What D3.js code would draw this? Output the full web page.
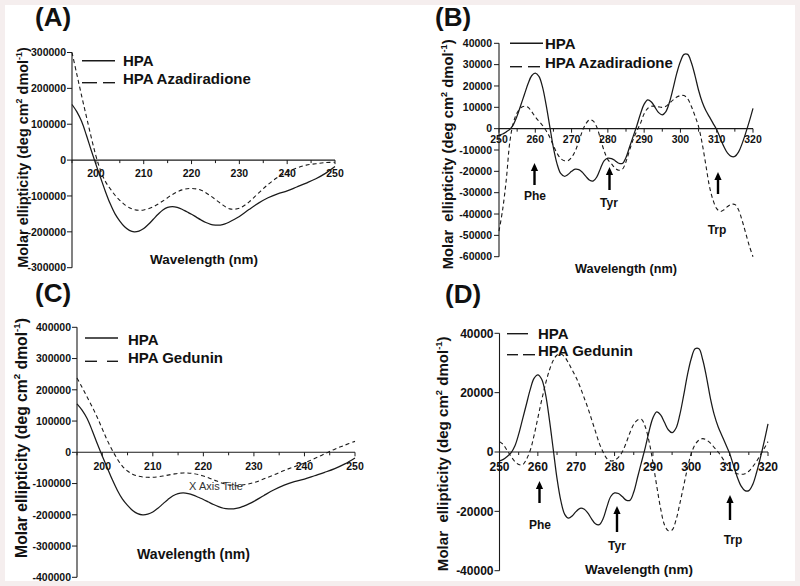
<!DOCTYPE html>
<html><head><meta charset="utf-8">
<script src="https://cdn.jsdelivr.net/npm/d3@7"></script>
<style>
html,body{margin:0;padding:0;background:#f5eeee;}
svg{display:block;}
text{font-family:"Liberation Sans",Arial,Helvetica,sans-serif;}
</style></head><body>
<svg id="c" width="800" height="586"></svg>
<script>
// ---------------- DATA ----------------
// Far-UV region (panels A and C)
const farWavelengthHPA = [195,196,197,198,199,200,201,202,203,204,205,206,207,208,209,210,211,212,213,214,215,216,217,218,219,220,221,222,223,224,225,226,227,228,229,230,232,234,236,238,240,242,244,246,248,250];
const hpaFar = [155000,135000,108000,70000,28000,-12000,-50000,-88000,-122000,-150000,-170000,-186000,-196000,-200000,-198000,-191000,-179000,-165000,-151000,-139000,-132000,-130000,-132000,-137000,-144000,-151000,-159000,-167000,-174000,-179000,-181000,-181000,-178000,-172000,-165000,-157000,-138000,-120000,-105000,-94000,-86000,-75000,-64000,-52000,-37000,-18000];

const farWavelengthLigand = [195,196,197,198,199,200,201,202,203,204,205,206,207,208,209,210,212,214,216,218,220,222,224,226,228,230,232,234,236,238,240,242,244,246,248,250];
const azadiradioneFar = [300000,240000,180000,122000,65000,12000,-30000,-60000,-80000,-98000,-112000,-124000,-133000,-138000,-140000,-139000,-130000,-114000,-96000,-83000,-79000,-84000,-100000,-120000,-136000,-134000,-117000,-92000,-68000,-48000,-33000,-22000,-14000,-10000,-7000,-6000];
const geduninFar = [238000,208000,177000,146000,112000,75000,38000,6000,-22000,-45000,-60000,-70000,-76000,-79000,-80000,-80000,-76000,-70000,-66000,-68000,-76000,-88000,-100000,-107000,-104000,-97000,-85000,-72000,-58000,-46000,-34000,-20000,-5000,10000,23000,35000];

// Near-UV region (panels B and D), 250..320 nm step 1
const nearWavelength = [250,251,252,253,254,255,256,257,258,259,260,261,262,263,264,265,266,267,268,269,270,271,272,273,274,275,276,277,278,279,280,281,282,283,284,285,286,287,288,289,290,291,292,293,294,295,296,297,298,299,300,301,302,303,304,305,306,307,308,309,310,311,312,313,314,315,316,317,318,319,320];
const hpaNear = [-3000,-2500,-1500,-300,2000,6000,11000,16000,21000,24800,26000,24500,19500,11000,1000,-9000,-16500,-21000,-22300,-21500,-20000,-19000,-19200,-20500,-22500,-24200,-24500,-22500,-18500,-15000,-13800,-14000,-15000,-16200,-16300,-13500,-8500,-3500,1500,7000,11500,13500,12500,10000,7500,6500,8000,12500,19000,26000,31500,34800,34800,31000,25000,18000,12500,8500,5500,2500,-500,-4500,-8500,-11500,-13000,-13000,-11000,-7000,-2000,3500,9500];
const azadiradioneNear = [-48000,-38000,-24000,-6000,3000,7500,9800,10500,10000,8000,5500,3500,1500,-1000,-4000,-8000,-11500,-14000,-15000,-15000,-13500,-10500,-6000,-1000,2500,4200,3500,500,-5000,-10500,-14500,-16500,-18500,-19500,-19000,-15500,-10000,-5000,-1000,2500,7000,9500,10500,10500,10200,10000,10500,12000,13500,14800,15500,15500,14000,10500,6000,1000,-7000,-17000,-27000,-33500,-37500,-38800,-38000,-36500,-35500,-35500,-38000,-43000,-49000,-55000,-60000];
const geduninNear = [3500,2500,500,-1500,-3200,-4200,-4300,-2500,500,5500,11500,17500,23000,27500,30800,32700,33000,32000,30000,27500,25000,22000,18500,15000,11000,7000,3000,0,-2200,-3000,-2800,-1800,0,3000,6500,9300,10800,11000,8500,3500,-3500,-11500,-19000,-24500,-26500,-26300,-23000,-17500,-11500,-5500,-500,2500,4000,4500,4000,3000,1500,0,-1800,-3800,-5500,-6700,-7300,-7500,-7300,-6500,-5000,-3200,-1000,1200,3500];

// Tick values
const farXTicks = [200,210,220,230,240,250];
const farXMinor = [195,205,215,225,235,245];
const nearXTicks = [250,260,270,280,290,300,310,320];
const nearXMinor = [255,265,275,285,295,305,315];
const yTicksA = [300000,200000,100000,0,-100000,-200000,-300000];
const yTicksB = [40000,30000,20000,10000,0,-10000,-20000,-30000,-40000,-50000,-60000];
const yTicksC = [400000,300000,200000,100000,0,-100000,-200000,-300000,-400000];
const yTicksD = [40000,20000,0,-20000,-40000];

const panelLabels = ["(A)","(B)","(C)","(D)"];
const legendA = ["HPA","HPA Azadiradione"];
const legendC = ["HPA","HPA Gedunin"];
const residues = ["Phe","Tyr","Trp"];
const yTitleTexts = ["Molar ellipticity (deg cm","2"," dmol","-1",")"];

// ---------------- DRAW ----------------
const svg = d3.select("#c");
svg.append("rect").attr("x",5).attr("y",5).attr("width",790).attr("height",576).attr("fill","#ffffff");

const INK = "#1a1a1a";

function fit(sel, target){
  const len = sel.node().getComputedTextLength();
  const fs = parseFloat(sel.attr("font-size"));
  sel.attr("font-size", fs*target/len);
}

function yTitle(g, bx, cy, len, dbl){
  const t = g.append("text")
    .attr("transform",`translate(${bx},${cy}) rotate(-90)`)
    .attr("text-anchor","middle").attr("font-weight","bold").attr("font-size",14)
    .attr("fill","#111").style("white-space","pre");
  t.append("tspan").text(dbl ? "Molar  ellipticity (deg cm" : yTitleTexts[0]);
  t.append("tspan").attr("font-size","0.62em").attr("dy","-0.62em").text(yTitleTexts[1]);
  t.append("tspan").attr("dy","0.385em").text(yTitleTexts[2]);
  t.append("tspan").attr("font-size","0.62em").attr("dy","-0.62em").text(yTitleTexts[3]);
  t.append("tspan").attr("dy","0.385em").text(yTitleTexts[4]);
  fit(t, len);
}

function drawPanel(p){
  const g = svg.append("g");
  const x = d3.scaleLinear().domain(p.xDomain).range(p.xRange);
  const y = d3.scaleLinear().domain(p.yDomain).range(p.yRange);
  const y0 = y(0);
  const ax = p.xRange[0];

  // y axis
  g.append("line").attr("x1",ax).attr("x2",ax).attr("y1",y(p.yDomain[1])).attr("y2",y(p.yDomain[0]))
    .attr("stroke",INK).attr("stroke-width",1.1);
  p.yTicks.forEach(v=>{
    g.append("line").attr("x1",ax-5).attr("x2",ax).attr("y1",y(v)).attr("y2",y(v)).attr("stroke",INK).attr("stroke-width",1);
    g.append("text").attr("x",ax-p.yLabelPad).attr("y",y(v)).attr("dy","0.36em")
      .attr("text-anchor","end").attr("font-size",p.tickFs).attr("font-weight","bold").attr("fill","#111").text(String(v));
  });
  // x axis at zero
  g.append("line").attr("x1",ax).attr("x2",p.xRange[1]).attr("y1",y0).attr("y2",y0).attr("stroke",INK).attr("stroke-width",1.1);
  p.xTicks.forEach(v=>{
    g.append("line").attr("x1",x(v)).attr("x2",x(v)).attr("y1",y0).attr("y2",y0+4).attr("stroke",INK).attr("stroke-width",1);
    g.append("text").attr("x",x(v)).attr("y",y0+p.xLabelOff).attr("text-anchor","middle")
      .attr("font-size",p.tickFs).attr("font-weight","bold").attr("fill","#111").text(String(v));
  });
  p.xMinor.forEach(v=>{
    g.append("line").attr("x1",x(v)).attr("x2",x(v)).attr("y1",y0).attr("y2",y0+3).attr("stroke",INK).attr("stroke-width",1);
  });

  // series
  const line = d3.line().x(d=>x(d[0])).y(d=>y(d[1])).curve(d3.curveCatmullRom.alpha(0.5));
  p.series.forEach(s=>{
    const pts = s.x.map((xv,i)=>[xv,s.y[i]]);
    g.append("path").attr("d",line(pts)).attr("fill","none").attr("stroke",INK)
      .attr("stroke-width",s.dashed?1.1:1.25).attr("stroke-dasharray",s.dashed?"4,3":null);
  });

  // panel label
  g.append("text").attr("x",p.label[0]).attr("y",p.label[1]).attr("font-size",26).attr("font-weight","bold").attr("fill","#111").text(p.labelText);

  // y title
  yTitle(g, p.yTitle[0], p.yTitle[1], p.yTitle[2], p.dbl);

  // x title
  const xt = g.append("text").attr("x",p.xTitle[0]).attr("y",p.xTitle[1]).attr("text-anchor","middle")
    .attr("font-size",14).attr("font-weight","bold").attr("fill","#111").text("Wavelength (nm)");
  fit(xt, p.xTitle[2]);

  // legend
  const L = p.legend;
  g.append("line").attr("x1",L.sx[0]).attr("x2",L.sx[1]).attr("y1",L.sy).attr("y2",L.sy).attr("stroke",INK).attr("stroke-width",1.4);
  L.dashes.forEach(d=>{
    g.append("line").attr("x1",d[0]).attr("x2",d[1]).attr("y1",L.dy).attr("y2",L.dy).attr("stroke",INK).attr("stroke-width",1.4);
  });
  g.append("text").attr("x",L.tx).attr("y",L.ty1).attr("font-size",15).attr("font-weight","bold").attr("fill","#111").text(L.names[0]);
  g.append("text").attr("x",L.tx).attr("y",L.ty2).attr("font-size",15).attr("font-weight","bold").attr("fill","#111").text(L.names[1]);

  // annotations (arrows)
  if (p.arrows) p.arrows.forEach((a,i)=>{
    g.append("line").attr("x1",a.x).attr("x2",a.x).attr("y1",a.bot).attr("y2",a.top+6).attr("stroke","#000").attr("stroke-width",2.4);
    g.append("path").attr("d",`M${a.x-3.6},${a.top+8}L${a.x},${a.top}L${a.x+3.6},${a.top+8}Z`).attr("fill","#000");
    g.append("text").attr("x",a.tx).attr("y",a.ty).attr("text-anchor","middle").attr("font-size",12).attr("font-weight","bold").attr("fill","#111").text(residues[i]);
  });
  return {g,x,y};
}

drawPanel({
  xDomain:[195,250], xRange:[72,335], yDomain:[-300000,300000], yRange:[267.7,52.5],
  yTicks:yTicksA, xTicks:farXTicks, xMinor:farXMinor, tickFs:10.5, yLabelPad:6, xLabelOff:16.5,
  series:[{x:farWavelengthHPA,y:hpaFar,dashed:false},{x:farWavelengthLigand,y:azadiradioneFar,dashed:true}],
  label:[35,26], labelText:panelLabels[0],
  yTitle:[27.5,157.5,221], dbl:false,
  xTitle:[204,263.5,108],
  legend:{sx:[82,115], sy:60.7, dashes:[[82,97],[103,115]], dy:82.7, tx:123, ty1:65.7, ty2:84, names:legendA}
});

drawPanel({
  xDomain:[250,320], xRange:[499,753], yDomain:[-60000,40000], yRange:[256.7,43.3],
  yTicks:yTicksB, xTicks:nearXTicks, xMinor:nearXMinor, tickFs:10.5, yLabelPad:7, xLabelOff:14.5,
  series:[{x:nearWavelength,y:hpaNear,dashed:false},{x:nearWavelength,y:azadiradioneNear,dashed:true}],
  label:[435,26], labelText:panelLabels[1],
  yTitle:[453,154.3,230], dbl:true,
  xTitle:[626,272.5,102],
  legend:{sx:[510,543], sy:43.3, dashes:[[510,522],[528,540]], dy:66.7, tx:545, ty1:49, ty2:68.3, names:legendA},
  arrows:[{x:534.5,top:163,bot:185,tx:535,ty:200},{x:609.5,top:167,bot:190,tx:609,ty:207},{x:718,top:172,bot:194,tx:717,ty:233.5}]
});

drawPanel({
  xDomain:[195,250], xRange:[77,355], yDomain:[-400000,400000], yRange:[577.3,327.3],
  yTicks:yTicksC, xTicks:farXTicks, xMinor:farXMinor, tickFs:10.5, yLabelPad:6, xLabelOff:18,
  series:[{x:farWavelengthHPA,y:hpaFar,dashed:false},{x:farWavelengthLigand,y:geduninFar,dashed:true}],
  label:[35,302], labelText:panelLabels[2],
  yTitle:[26.5,438,240], dbl:false,
  xTitle:[193.5,559,113],
  legend:{sx:[85,118], sy:338, dashes:[[85,97],[107,118]], dy:361.3, tx:128, ty1:344.7, ty2:363, names:legendC}
});
// stray axis title left in the original figure
svg.append("text").attr("x",216).attr("y",490).attr("text-anchor","middle").attr("font-size",11).attr("fill","#333").text("X Axis Title");

drawPanel({
  xDomain:[250,320], xRange:[499.5,768], yDomain:[-40000,40000], yRange:[570.7,333.3],
  yTicks:yTicksD, xTicks:nearXTicks, xMinor:nearXMinor, tickFs:12, yLabelPad:6, xLabelOff:19,
  series:[{x:nearWavelength,y:hpaNear,dashed:false},{x:nearWavelength,y:geduninNear,dashed:true}],
  label:[445,303], labelText:panelLabels[3],
  yTitle:[448,453.8,235], dbl:true,
  xTitle:[639,574,108],
  legend:{sx:[507,528], sy:333.7, dashes:[[507,518],[523,535]], dy:354.7, tx:538, ty1:338.5, ty2:356.3, names:legendC},
  arrows:[{x:539.5,top:481,bot:503,tx:540,ty:529},{x:617,top:506,bot:532,tx:617,ty:550},{x:730,top:495,bot:520,tx:733,ty:544}]
});
</script></body></html>
